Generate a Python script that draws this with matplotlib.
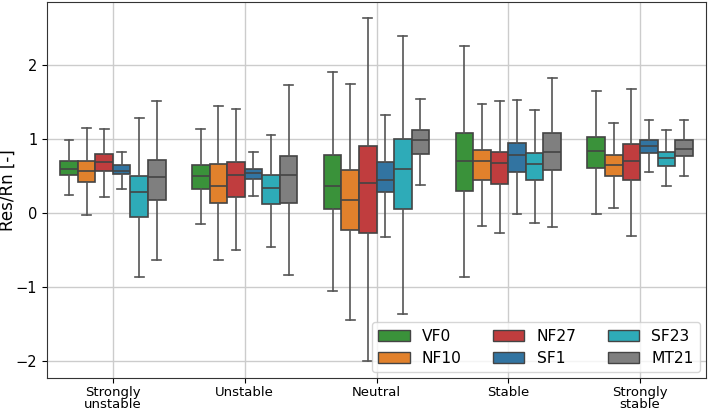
import matplotlib
matplotlib.use("Agg")
import matplotlib.pyplot as plt
import seaborn as sns

categories = ["Strongly\nunstable", "Unstable", "Neutral", "Stable", "Strongly\nstable"]
models = ["VF0", "NF10", "NF27", "SF1", "SF23", "MT21"]

# per model: one value per category (lower whisker, q1, median, q3, upper whisker)
whislo = {
    "VF0":  [0.24, -0.15, -1.05, -0.87, -0.02],
    "NF10": [-0.03, -0.64, -1.44, -0.18, 0.07],
    "NF27": [0.22, -0.50, -2.00, -0.27, -0.31],
    "SF1":  [0.32, 0.23, -0.32, -0.02, 0.56],
    "SF23": [-0.87, -0.46, -1.36, -0.14, 0.37],
    "MT21": [-0.63, -0.84, 0.38, -0.19, 0.50],
}
q1 = {
    "VF0":  [0.51, 0.33, 0.05, 0.30, 0.61],
    "NF10": [0.42, 0.14, -0.23, 0.44, 0.50],
    "NF27": [0.57, 0.22, -0.27, 0.39, 0.44],
    "SF1":  [0.52, 0.46, 0.28, 0.56, 0.81],
    "SF23": [-0.05, 0.12, 0.05, 0.44, 0.64],
    "MT21": [0.17, 0.13, 0.80, 0.58, 0.77],
}
med = {
    "VF0":  [0.60, 0.50, 0.37, 0.70, 0.84],
    "NF10": [0.57, 0.36, 0.17, 0.70, 0.65],
    "NF27": [0.69, 0.51, 0.41, 0.68, 0.70],
    "SF1":  [0.57, 0.54, 0.44, 0.78, 0.90],
    "SF23": [0.29, 0.34, 0.59, 0.66, 0.74],
    "MT21": [0.48, 0.51, 0.99, 0.82, 0.86],
}
q3 = {
    "VF0":  [0.70, 0.65, 0.79, 1.08, 1.03],
    "NF10": [0.70, 0.66, 0.58, 0.85, 0.79],
    "NF27": [0.80, 0.69, 0.91, 0.83, 0.93],
    "SF1":  [0.65, 0.60, 0.69, 0.95, 0.99],
    "SF23": [0.50, 0.51, 1.00, 0.81, 0.83],
    "MT21": [0.72, 0.77, 1.12, 1.08, 0.98],
}
whishi = {
    "VF0":  [0.99, 1.13, 1.90, 2.25, 1.65],
    "NF10": [1.15, 1.44, 1.74, 1.47, 1.22],
    "NF27": [1.14, 1.40, 2.63, 1.51, 1.68],
    "SF1":  [0.83, 0.83, 1.32, 1.53, 1.25],
    "SF23": [1.28, 1.06, 2.39, 1.39, 1.12],
    "MT21": [1.51, 1.73, 1.54, 1.83, 1.26],
}

tab = sns.color_palette("tab10", desat=0.75)
colors = [tab[2], tab[1], tab[3], tab[0], tab[9], tab[7]]

fig, ax = plt.subplots(figsize=(7.09, 4.12), dpi=100)
fig.subplots_adjust(left=0.0663, right=0.9958, top=0.995, bottom=0.0825)

line_col = "#555555"
w = 0.8 / len(models)
for j, m in enumerate(models):
    stats = []
    for i in range(len(categories)):
        stats.append(dict(whislo=whislo[m][i], q1=q1[m][i], med=med[m][i],
                          q3=q3[m][i], whishi=whishi[m][i], fliers=[]))
    pos = [i - 0.4 + w * (j + 0.5) for i in range(len(categories))]
    ax.bxp(stats, positions=pos, widths=w, patch_artist=True, showfliers=False,
           boxprops=dict(facecolor=colors[j], edgecolor="#444444", linewidth=1.2),
           medianprops=dict(color="#444444", linewidth=1.2),
           whiskerprops=dict(color=line_col, linewidth=1.2),
           capprops=dict(color=line_col, linewidth=1.2),
           label=m)

ax.set_xlim(-0.5, len(categories) - 0.5)
ax.set_ylim(-2.23, 2.85)
ax.set_xticks(range(len(categories)))
ax.set_xticklabels(categories, fontsize=9.5, linespacing=0.95)
ax.tick_params(axis="x", pad=2)
ax.set_yticks([-2, -1, 0, 1, 2])
ax.tick_params(axis="y", labelsize=10.5)
ax.set_ylabel("Res/Rn [-]", fontsize=12)
ax.yaxis.set_label_coords(-0.046, 0.5)
ax.grid(True, color="#cccccc", linewidth=1)
ax.set_axisbelow(True)
for s in ax.spines.values():
    s.set_color("#333333")

handles = [plt.Rectangle((0, 0), 1, 1, facecolor=c, edgecolor="#444444") for c in colors]
ax.legend(handles, models, ncol=3, loc="lower right", fontsize=11.2,
          borderaxespad=0.4, labelspacing=0.45)

fig.savefig("out.png")
